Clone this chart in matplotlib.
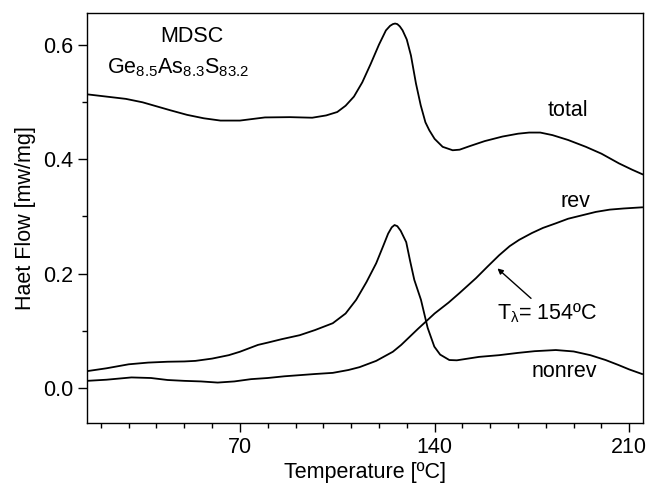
import numpy as np
import matplotlib
matplotlib.use("Agg")
import matplotlib.pyplot as plt
from matplotlib.ticker import MultipleLocator

plt.rcParams['font.family'] = ['Liberation Sans', 'DejaVu Sans']
plt.rcParams['mathtext.fontset'] = 'custom'
plt.rcParams['mathtext.rm'] = 'Liberation Sans'
plt.rcParams['mathtext.it'] = 'Liberation Sans'

# total heat flow
total_T = [15, 22, 29, 35, 40, 45, 51, 57, 63, 70, 79, 88, 96, 101, 105, 108, 111, 114,
           117, 120, 122.5, 124, 125, 125.8, 126.6, 127.5, 128.5, 130, 131.5, 133.3, 135,
           136.7, 138.1, 140, 142.9, 146.5, 149, 152.5, 158, 164.4, 170, 174, 178, 182.4,
           188, 194.4, 200, 206.3, 211, 214.7]
total_hf = [0.514, 0.510, 0.506, 0.500, 0.493, 0.486, 0.478, 0.472, 0.468, 0.468, 0.4735,
            0.474, 0.473, 0.477, 0.483, 0.494, 0.510, 0.535, 0.567, 0.601, 0.626, 0.634,
            0.637, 0.638, 0.637, 0.633, 0.626, 0.610, 0.582, 0.533, 0.495, 0.465, 0.451,
            0.436, 0.422, 0.416, 0.417, 0.423, 0.432, 0.440, 0.445, 0.447, 0.447, 0.4425,
            0.434, 0.422, 0.410, 0.393, 0.382, 0.374]

# non-reversing heat flow
nonrev_T = [15, 22, 30, 37, 44, 50, 54, 60, 66, 70, 76.5, 80, 85, 91.5, 97, 103.4, 108,
            111.8, 115.5, 119, 121.5, 123.3, 124.6, 125.6, 126.6, 127.8, 129.8, 131.2,
            132.7, 135.1, 137.5, 139.9, 142, 145.3, 148, 152, 156, 163.2, 170, 176,
            183.6, 190, 196, 201.5, 206, 210, 214.6]
nonrev_hf = [0.029, 0.034, 0.041, 0.044, 0.0455, 0.046, 0.047, 0.051, 0.057, 0.063, 0.075,
             0.079, 0.085, 0.092, 0.101, 0.113, 0.130, 0.154, 0.185, 0.218, 0.248, 0.270,
             0.281, 0.285, 0.283, 0.275, 0.255, 0.222, 0.189, 0.154, 0.105, 0.072, 0.058,
             0.0485, 0.048, 0.051, 0.054, 0.057, 0.061, 0.064, 0.066, 0.0635, 0.057,
             0.0485, 0.040, 0.032, 0.024]

# reversing heat flow
rev_T = [15, 22, 31, 38, 44, 50, 56, 62, 68, 74, 80, 86, 91.5, 97, 103.4, 109, 113,
         119, 125, 128, 131, 134, 136.9, 140, 145, 149, 154.9, 159, 163.2, 167,
         170.4, 175, 179, 183.6, 188, 193, 198, 203, 208, 214.6]
rev_hf = [0.012, 0.014, 0.018, 0.017, 0.0135, 0.012, 0.011, 0.009, 0.011, 0.015, 0.017,
          0.020, 0.022, 0.024, 0.026, 0.031, 0.036, 0.047, 0.063, 0.075, 0.089, 0.103,
          0.116, 0.130, 0.149, 0.166, 0.192, 0.212, 0.232, 0.248, 0.259, 0.271, 0.280,
          0.288, 0.296, 0.302, 0.308, 0.312, 0.314, 0.316]

fig = plt.figure(figsize=(6.49, 4.88), dpi=100)
ax = fig.add_axes([0.134, 0.133, 0.857, 0.841])

for T, hf in [(total_T, total_hf), (nonrev_T, nonrev_hf), (rev_T, rev_hf)]:
    ax.plot(T, hf, color='black', lw=1.3)

ax.set_xlim(15, 215)
ax.set_ylim(-0.062, 0.657)
ax.xaxis.set_major_locator(MultipleLocator(70))
ax.xaxis.set_minor_locator(MultipleLocator(10))
ax.yaxis.set_major_locator(MultipleLocator(0.2))
ax.yaxis.set_minor_locator(MultipleLocator(0.1))
ax.tick_params(which='major', direction='out', length=6.5, width=1.0, labelsize=15.5)
ax.tick_params(which='minor', direction='out', length=3.5, width=1.0)
for s in ax.spines.values():
    s.set_linewidth(1.0)

ax.set_xlabel('Temperature [ºC]', fontsize=15.5, labelpad=3)
ax.set_ylabel('Haet Flow [mw/mg]', fontsize=15.5, labelpad=5)

fs = 15.5
ax.text(52.6, 0.616, 'MDSC', fontsize=fs, ha='center', va='center')
ax.text(22.1, 0.56, r'Ge$_{8.5}$As$_{8.3}$S$_{83.2}$', fontsize=fs, ha='left', va='center')
ax.text(188, 0.486, 'total', fontsize=fs, ha='center', va='center')
ax.text(190.7, 0.326, 'rev', fontsize=fs, ha='center', va='center')
ax.text(186.5, 0.028, 'nonrev', fontsize=fs, ha='center', va='center')
ax.annotate(r'T$_{λ}$= 154ºC', xy=(162.6, 0.209), xytext=(162.5, 0.131),
            fontsize=fs, ha='left', va='center',
            arrowprops=dict(arrowstyle='-|>', color='black', lw=1.0,
                            shrinkA=0, shrinkB=0, mutation_scale=8))

fig.savefig('out.png', dpi=100)
